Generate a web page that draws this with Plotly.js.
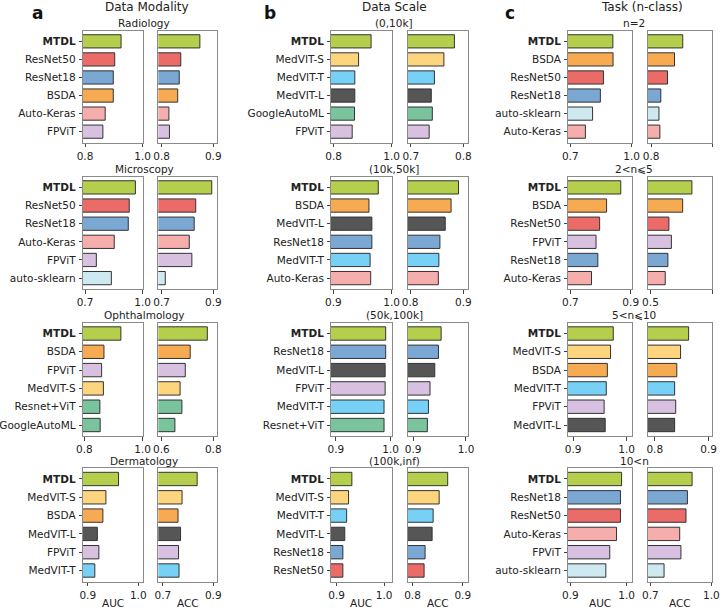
<!DOCTYPE html>
<html>
<head>
<meta charset="utf-8">
<script src="https://cdn.plot.ly/plotly-3.0.1.min.js"></script>
<style>
  html, body { margin: 0; padding: 0; background: #ffffff; }
  #chart { width: 720px; height: 609px; }
</style>
</head>
<body>
<div id="chart"></div>
<script>
// ---- Data Modality ----
const radiologyModels = ['MTDL', 'ResNet50', 'ResNet18', 'BSDA', 'Auto-Keras', 'FPViT'];
const radiologyAUC = [0.925, 0.903, 0.898, 0.898, 0.870, 0.862];
const radiologyACC = [0.874, 0.837, 0.834, 0.831, 0.814, 0.815];

const microscopyModels = ['MTDL', 'ResNet50', 'ResNet18', 'Auto-Keras', 'FPViT', 'auto-sklearn'];
const microscopyAUC = [0.962, 0.930, 0.925, 0.852, 0.759, 0.837];
const microscopyACC = [0.894, 0.832, 0.826, 0.807, 0.817, 0.714];

const ophthalmologyModels = ['MTDL', 'BSDA', 'FPViT', 'MedVIT-S', 'Resnet+ViT', 'GoogleAutoML'];
const ophthalmologyAUC = [0.925, 0.867, 0.859, 0.865, 0.853, 0.854];
const ophthalmologyACC = [0.777, 0.711, 0.692, 0.672, 0.679, 0.652];

const dermatologyModels = ['MTDL', 'MedVIT-S', 'BSDA', 'MedVIT-L', 'FPViT', 'MedVIT-T'];
const dermatologyAUC = [0.961, 0.936, 0.930, 0.919, 0.922, 0.914];
const dermatologyACC = [0.836, 0.776, 0.760, 0.770, 0.762, 0.764];

// ---- Data Scale ----
const scale10kModels = ['MTDL', 'MedVIT-S', 'MedVIT-T', 'MedVIT-L', 'GoogleAutoML', 'FPViT'];
const scale10kAUC = [0.929, 0.886, 0.873, 0.873, 0.872, 0.864];
const scale10kACC = [0.783, 0.763, 0.745, 0.739, 0.741, 0.735];

const scale50kModels = ['MTDL', 'BSDA', 'MedVIT-L', 'ResNet18', 'MedVIT-T', 'Auto-Keras'];
const scale50kAUC = [0.977, 0.961, 0.966, 0.966, 0.963, 0.964];
const scale50kACC = [0.891, 0.877, 0.866, 0.856, 0.854, 0.853];

const scale100kModels = ['MTDL', 'ResNet18', 'MedVIT-L', 'FPViT', 'MedVIT-T', 'Resnet+ViT'];
const scale100kAUC = [0.991, 0.991, 0.990, 0.990, 0.988, 0.988];
const scale100kACC = [0.953, 0.948, 0.941, 0.932, 0.929, 0.927];

const scaleInfModels = ['MTDL', 'MedVIT-S', 'MedVIT-T', 'MedVIT-L', 'ResNet18', 'ResNet50'];
const scaleInfAUC = [0.932, 0.925, 0.921, 0.917, 0.913, 0.913];
const scaleInfACC = [0.870, 0.853, 0.841, 0.839, 0.825, 0.823];

// ---- Task (n-class) ----
const task2Models = ['MTDL', 'BSDA', 'ResNet50', 'ResNet18', 'auto-sklearn', 'Auto-Keras'];
const task2AUC = [0.908, 0.909, 0.862, 0.847, 0.809, 0.774];
const task2ACC = [0.904, 0.877, 0.854, 0.832, 0.826, 0.829];

const task5Models = ['MTDL', 'BSDA', 'ResNet50', 'FPViT', 'ResNet18', 'Auto-Keras'];
const task5AUC = [0.867, 0.820, 0.797, 0.785, 0.791, 0.770];
const task5ACC = [0.702, 0.657, 0.590, 0.602, 0.585, 0.572];

const task10Models = ['MTDL', 'MedVIT-S', 'BSDA', 'MedVIT-T', 'FPViT', 'MedVIT-L'];
const task10AUC = [0.975, 0.970, 0.964, 0.962, 0.958, 0.960];
const task10ACC = [0.863, 0.848, 0.841, 0.837, 0.839, 0.837];

const taskManyModels = ['MTDL', 'ResNet18', 'ResNet50', 'Auto-Keras', 'FPViT', 'auto-sklearn'];
const taskManyAUC = [0.991, 0.989, 0.989, 0.982, 0.970, 0.963];
const taskManyACC = [0.905, 0.882, 0.875, 0.844, 0.850, 0.767];

// Group headings and x tick labels
const columnTitles = ['Data Modality', 'Data Scale', 'Task (n-class)'];
const panelLetters = ['a', 'b', 'c'];
const groupTitles = [
  ['Radiology', 'Microscopy', 'Ophthalmology', 'Dermatology'],
  ['(0,10k]', '(10k,50k]', '(50k,100k]', '(100k,inf)'],
  ['n=2', '2<n⩽5', '5<n⩽10', '10<n']
];
const aucTicks = [
  [[0.8, 1.0], [0.7, 1.0], [0.8, 1.0], [0.9, 1.0]],
  [[0.8, 1.0], [0.9, 1.0], [0.9, 1.0], [0.9, 1.0]],
  [[0.7, 1.0], [0.7, 0.9], [0.9, 1.0], [0.9, 1.0]]
];
const accTicks = [
  [[0.8, 0.9], [0.7, 0.9], [0.6, 0.8], [0.7, 0.9]],
  [[0.7, 0.8], [0.8, 0.9], [0.9, 1.0], [0.8, 0.9]],
  [[0.8, 1.0], [0.5, 0.8], [0.8, 0.9], [0.7, 1.0]]
];

// ---- styling ----
const modelColors = {
  'MTDL': '#b5cf4c',
  'ResNet50': '#ea6b68',
  'ResNet18': '#7aa8d3',
  'BSDA': '#f6aa52',
  'Auto-Keras': '#f5aeac',
  'FPViT': '#d8c0e0',
  'auto-sklearn': '#cfe9f1',
  'MedVIT-S': '#fdd57e',
  'MedVIT-T': '#77d1f6',
  'MedVIT-L': '#565656',
  'GoogleAutoML': '#79c49d',
  'Resnet+ViT': '#79c49d'
};

const groups = [
  [[radiologyModels, radiologyAUC, radiologyACC],
   [microscopyModels, microscopyAUC, microscopyACC],
   [ophthalmologyModels, ophthalmologyAUC, ophthalmologyACC],
   [dermatologyModels, dermatologyAUC, dermatologyACC]],
  [[scale10kModels, scale10kAUC, scale10kACC],
   [scale50kModels, scale50kAUC, scale50kACC],
   [scale100kModels, scale100kAUC, scale100kACC],
   [scaleInfModels, scaleInfAUC, scaleInfACC]],
  [[task2Models, task2AUC, task2ACC],
   [task5Models, task5AUC, task5ACC],
   [task10Models, task10AUC, task10ACC],
   [taskManyModels, taskManyAUC, taskManyACC]]
];

// Layout geometry in pixels
const W = 720, H = 609;
const colBoxes = [
  { auc: [82.7, 142.7], acc: [158.3, 217.3], mid: 144 },
  { auc: [331, 391.7], acc: [407.5, 468.3], mid: 394 },
  { auc: [568, 631.7], acc: [648, 712], mid: 634 }
];
const rowBoxes = [[30.5, 142.5], [176.5, 289], [322.5, 436], [468, 581.5]];
const letterX = [37, 270, 510];
const colTitleX = [146.5, 394.5, 642];

// x ranges of each axis (AUC, ACC) by column/row
const aucRanges = [
  [[0.792, 1.0], [0.688, 1.0], [0.794, 1.0], [0.890, 1.0088]],
  [[0.791, 1.0], [0.896, 1.0], [0.891, 1.002], [0.888, 1.016]],
  [[0.689, 1.0], [0.692, 0.9033], [0.8906, 1.0094], [0.8957, 1.009]]
];
const accRanges = [
  [[0.7934, 0.9078], [0.687, 0.9155], [0.588, 0.8155], [0.6816, 0.916]],
  [[0.6938, 0.8094], [0.795, 0.9094], [0.8894, 1.0044], [0.79, 0.911]],
  [[0.790, 1.0], [0.488, 0.8], [0.7875, 0.9064], [0.688, 1.003]]
];

const FONT = 'DejaVu Sans, Liberation Sans, sans-serif';
const TXT = '#222222';
const FRAME = '#8a8a8a';

const traces = [];
const layout = {
  width: W, height: H,
  margin: { l: 0, r: 0, t: 0, b: 0 },
  paper_bgcolor: '#ffffff',
  plot_bgcolor: '#ffffff',
  showlegend: false,
  font: { family: FONT, color: TXT, size: 10.5 },
  annotations: []
};

let idx = 0;
for (let c = 0; c < 3; c++) {
  for (let r = 0; r < 4; r++) {
    const [models, auc, acc] = groups[c][r];
    const [top, bot] = rowBoxes[r];
    const yDomain = [(H - bot) / H, (H - top) / H];
    const metrics = [
      { vals: auc, box: colBoxes[c].auc, range: aucRanges[c][r], ticks: aucTicks[c][r], labels: true },
      { vals: acc, box: colBoxes[c].acc, range: accRanges[c][r], ticks: accTicks[c][r], labels: false }
    ];
    for (const m of metrics) {
      idx++;
      const sfx = idx === 1 ? '' : String(idx);
      traces.push({
        type: 'bar',
        orientation: 'h',
        x: m.vals,
        y: models,
        width: 0.73,
        xaxis: 'x' + sfx,
        yaxis: 'y' + sfx,
        marker: {
          color: models.map(n => modelColors[n]),
          line: { color: '#333333', width: 1 }
        },
        hoverinfo: 'skip'
      });
      layout['xaxis' + sfx] = {
        domain: [m.box[0] / W, m.box[1] / W],
        anchor: 'y' + sfx,
        range: m.range,
        tickmode: 'array',
        tickvals: m.ticks,
        ticktext: m.ticks.map(v => v.toFixed(1)),
        ticks: 'outside', ticklen: 3.5, tickwidth: 1, tickcolor: '#444',
        tickfont: { size: 10.5, color: TXT, family: FONT },
        showgrid: false, zeroline: false,
        showline: true, linecolor: FRAME, linewidth: 1, mirror: true,
        fixedrange: true
      };
      layout['yaxis' + sfx] = {
        domain: yDomain,
        anchor: 'x' + sfx,
        type: 'category',
        range: [models.length - 0.4, -0.6],
        tickmode: 'array',
        tickvals: models,
        ticktext: models.map(n => n === 'MTDL' ? '<b>MTDL</b>' : n),
        showticklabels: m.labels,
        ticks: m.labels ? 'outside' : '',
        ticklen: 3, tickwidth: 1, tickcolor: '#444',
        ticklabelstandoff: 1,
        tickfont: { size: 10.5, color: TXT, family: FONT },
        showgrid: false, zeroline: false,
        showline: true, linecolor: FRAME, linewidth: 1, mirror: true,
        fixedrange: true
      };
    }
    // group heading above each pair of plots
    layout.annotations.push({
      xref: 'paper', yref: 'paper',
      x: colBoxes[c].mid / W, y: (H - (top - 7.5)) / H,
      text: groupTitles[c][r], showarrow: false,
      xanchor: 'center', yanchor: 'middle',
      font: { size: 10.5, color: TXT, family: FONT }
    });
  }
  // column heading and panel letter
  layout.annotations.push({
    xref: 'paper', yref: 'paper',
    x: colTitleX[c] / W, y: (H - 7) / H,
    text: columnTitles[c], showarrow: false,
    xanchor: 'center', yanchor: 'middle',
    font: { size: 12, color: TXT, family: FONT }
  });
  layout.annotations.push({
    xref: 'paper', yref: 'paper',
    x: letterX[c] / W, y: (H - 12.5) / H,
    text: '<b>' + panelLetters[c] + '</b>', showarrow: false,
    xanchor: 'center', yanchor: 'middle',
    font: { size: 17, color: '#111', family: FONT }
  });
  // metric names under the bottom row
  for (const [name, box] of [['AUC', colBoxes[c].auc], ['ACC', colBoxes[c].acc]]) {
    layout.annotations.push({
      xref: 'paper', yref: 'paper',
      x: (box[0] + box[1]) / 2 / W, y: (H - 603) / H,
      text: name, showarrow: false,
      xanchor: 'center', yanchor: 'middle',
      font: { size: 10.5, color: TXT, family: FONT }
    });
  }
}

Plotly.newPlot('chart', traces, layout, { staticPlot: true, displayModeBar: false });
</script>
</body>
</html>
